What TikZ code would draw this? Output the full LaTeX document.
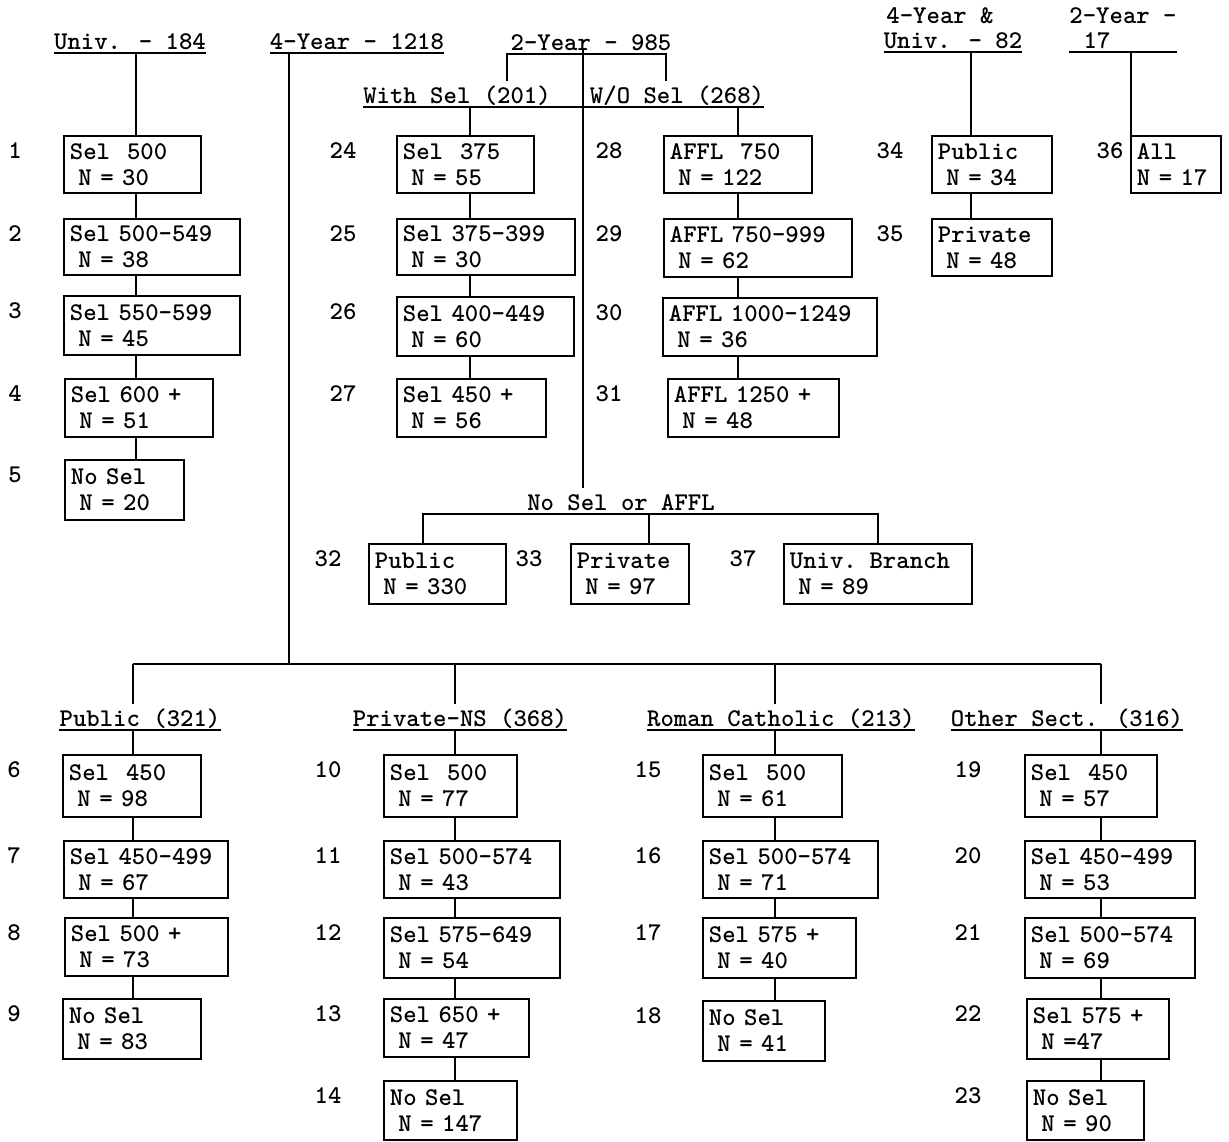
\documentclass[tikz,border=0pt]{standalone}
\newcommand\chartfont{\ttfamily\bfseries\fontsize{25.5}{26}\selectfont}
\tikzset{
  joinline/.style={line width=1.8pt},
  cell/.style={draw, joinline, anchor=north west, inner xsep=6pt, inner ysep=0pt, align=left, font=\chartfont},
  rownum/.style={anchor=base, inner sep=0pt, font=\chartfont},
  hdr/.style={anchor=base, inner sep=0pt, text height=22pt, text depth=4pt, font=\chartfont},
}
\newcommand\cellbox[9]{
  \pgfmathsetmacro\cellw{#6-#4}
  \pgfmathsetmacro\cellh{#7-#5}
  \pgfmathsetmacro\cellt{#6-#4-12}
  \node[cell, minimum width=\cellw pt, minimum height=\cellh pt, text width=\cellt pt] (#1) at (#4,#5) {\mbox{#8}\\\mbox{#9}};
  \node[rownum] (#1n) at (#3,#5+23) {#2};
}
\begin{document}
\begin{tikzpicture}[x=1pt, y=-1pt]
  \useasboundingbox (0,0) rectangle (1229,1141);
  \coordinate (ux) at (136,0);
  \coordinate (wx) at (470,0);
  \coordinate (ax) at (738,0);
  \coordinate (cx) at (583,0);
  \coordinate (brl) at (507,0);
  \coordinate (brr) at (666,0);
  \coordinate (fx) at (971,0);
  \coordinate (tx) at (1131,0);
  \coordinate (nl) at (423,0);
  \coordinate (nm) at (649,0);
  \coordinate (nr) at (878,0);
  \coordinate (px) at (133,0);
  \coordinate (nx) at (455,0);
  \coordinate (rx) at (775,0);
  \coordinate (ox) at (1101,0);
  \coordinate (busL) at (133,664);
  \coordinate (busM) at (289,664);
  \coordinate (busR) at (1101,664);

  \node[hdr] (univ) at (130,49) {Univ. - 184};
  \node[hdr] (four) at (357,49) {4-Year - 1218};
  \node[hdr] (twoy) at (591,50) {2-Year - 985};
  \node[hdr] (ws) at (457,103) {With Sel (201)};
  \node[hdr] (wo) at (677,103) {W/O Sel (268)};
  \node[hdr] (fua) at (940,23) {4-Year \&};
  \node[hdr] (fub) at (953,48) {Univ. - 82};
  \node[hdr] (tya) at (1123,23) {2-Year -};
  \node[hdr] (tyb) at (1097,48) {17};
  \node[hdr] (nsa) at (621,510) {No Sel or AFFL};
  \node[hdr] (pub) at (140,726) {Public (321)};
  \node[hdr] (pns) at (460,726) {Private-NS (368)};
  \node[hdr] (rc) at (781,726) {Roman Catholic (213)};
  \node[hdr] (oth) at (1067,726) {Other Sect. (316)};

  \cellbox{u1}{1}{15}{63}{135}{200}{192}{Sel~~500}{\ N = 30}
  \cellbox{u2}{2}{15}{63}{218}{239}{274}{Sel 500-549}{\ N = 38}
  \cellbox{u3}{3}{15}{63}{295}{239}{354}{Sel 550-599}{\ N = 45}
  \cellbox{u4}{4}{15}{64}{378}{212}{436}{Sel 600 +}{\ N = 51}
  \cellbox{u5}{5}{15}{64}{459}{183}{519}{No Sel}{\ N = 20}

  \cellbox{w1}{24}{343}{396}{135}{533}{192}{Sel~~375}{\ N = 55}
  \cellbox{w2}{25}{343}{396}{218}{574}{274}{Sel 375-399}{\ N = 30}
  \cellbox{w3}{26}{343}{396}{296}{573}{355}{Sel 400-449}{\ N = 60}
  \cellbox{w4}{27}{343}{396}{378}{545}{436}{Sel 450 +}{\ N = 56}

  \cellbox{a1}{28}{609}{663}{135}{811}{192}{AFFL~~750}{\ N = 122}
  \cellbox{a2}{29}{609}{663}{218}{851}{276}{AFFL 750-999}{\ N = 62}
  \cellbox{a3}{30}{609}{662}{297}{876}{355}{AFFL 1000-1249}{\ N = 36}
  \cellbox{a4}{31}{609}{667}{378}{838}{436}{AFFL 1250 +}{\ N = 48}

  \cellbox{b34}{34}{890}{931}{135}{1051}{192}{Public}{\ N = 34}
  \cellbox{b35}{35}{890}{931}{218}{1051}{275}{Private}{\ N = 48}
  \cellbox{b36}{36}{1110}{1130}{135}{1220}{192}{All}{N = 17}

  \cellbox{b32}{32}{328}{368}{543}{505}{603}{Public}{\ N = 330}
  \cellbox{b33}{33}{529}{570}{543}{688}{603}{Private}{\ N = 97}
  \cellbox{b37}{37}{743}{783}{543}{971}{603}{Univ. Branch}{\ N = 89}

  \cellbox{p1}{6}{14}{62}{754}{200}{816}{Sel~~450}{\ N = 98}
  \cellbox{p2}{7}{14}{63}{840}{227}{897}{Sel 450-499}{\ N = 67}
  \cellbox{p3}{8}{14}{64}{917}{227}{975}{Sel 500 +}{\ N = 73}
  \cellbox{p4}{9}{14}{62}{998}{200}{1058}{No Sel}{\ N = 83}

  \cellbox{n1}{10}{328}{383}{754}{516}{816}{Sel~~500}{\ N = 77}
  \cellbox{n2}{11}{328}{383}{840}{559}{897}{Sel 500-574}{\ N = 43}
  \cellbox{n3}{12}{328}{383}{917}{559}{977}{Sel 575-649}{\ N = 54}
  \cellbox{n4}{13}{328}{383}{998}{528}{1056}{Sel 650 +}{\ N = 47}
  \cellbox{n5}{14}{328}{383}{1080}{516}{1139}{No Sel}{\ N = 147}

  \cellbox{r1}{15}{648}{702}{754}{841}{816}{Sel~~500}{\ N = 61}
  \cellbox{r2}{16}{648}{702}{840}{877}{897}{Sel 500-574}{\ N = 71}
  \cellbox{r3}{17}{648}{702}{917}{855}{977}{Sel 575 +}{\ N = 40}
  \cellbox{r4}{18}{648}{702}{1000}{824}{1060}{No Sel}{\ N = 41}

  \cellbox{o1}{19}{968}{1024}{754}{1156}{816}{Sel~~450}{\ N = 57}
  \cellbox{o2}{20}{968}{1024}{840}{1194}{897}{Sel 450-499}{\ N = 53}
  \cellbox{o3}{21}{968}{1024}{917}{1194}{977}{Sel 500-574}{\ N = 69}
  \cellbox{o4}{22}{968}{1026}{998}{1168}{1058}{Sel 575 +}{\ N =47}
  \cellbox{o5}{23}{968}{1026}{1080}{1143}{1139}{No Sel}{\ N = 90}

  \foreach \h in {univ,four,fub,pub,pns,rc,oth}
    \draw[joinline] (\h.south west) -- (\h.south east);
  \draw[joinline] (ws.south west) -- (wo.south east);
  \draw[joinline] (tyb.south -| tya.west) -- (tyb.south -| tya.east);

  \draw[joinline] (ws.north -| brl) -- (twoy.south -| brl) -- (twoy.south -| brr) -- (wo.north -| brr);
  \draw[joinline] (twoy.base -| cx) -- (nsa.north -| cx);
  \draw[joinline] (b32.north -| nl) -- (nsa.south -| nl) -- (nsa.south -| nr) -- (b37.north -| nr);
  \draw[joinline] (nsa.south -| nm) -- (b33.north -| nm);

  \draw[joinline] (four.south -| busM) -- (busM);
  \draw[joinline] (busL) -- (busR);
  \foreach \h/\c in {pub/px,pns/nx,rc/rx,oth/ox}
    \draw[joinline] (busL -| \c) -- (\h.north -| \c);

  \foreach \a/\b in {univ/u1,u1/u2,u2/u3,u3/u4,u4/u5}
    \draw[joinline] (\a.south -| ux) -- (\b.north -| ux);
  \foreach \a/\b in {ws/w1,w1/w2,w2/w3,w3/w4}
    \draw[joinline] (\a.south -| wx) -- (\b.north -| wx);
  \foreach \a/\b in {wo/a1,a1/a2,a2/a3,a3/a4}
    \draw[joinline] (\a.south -| ax) -- (\b.north -| ax);
  \foreach \a/\b in {fub/b34,b34/b35}
    \draw[joinline] (\a.south -| fx) -- (\b.north -| fx);
  \draw[joinline] (tyb.south -| tx) -- (b36.north -| tx);
  \foreach \a/\b in {pub/p1,p1/p2,p2/p3,p3/p4}
    \draw[joinline] (\a.south -| px) -- (\b.north -| px);
  \foreach \a/\b in {pns/n1,n1/n2,n2/n3,n3/n4,n4/n5}
    \draw[joinline] (\a.south -| nx) -- (\b.north -| nx);
  \foreach \a/\b in {rc/r1,r1/r2,r2/r3,r3/r4}
    \draw[joinline] (\a.south -| rx) -- (\b.north -| rx);
  \foreach \a/\b in {oth/o1,o1/o2,o2/o3,o3/o4,o4/o5}
    \draw[joinline] (\a.south -| ox) -- (\b.north -| ox);
\end{tikzpicture}
\end{document}
